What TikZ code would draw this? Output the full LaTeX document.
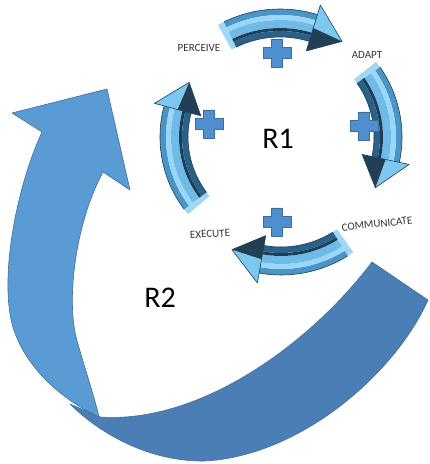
\documentclass[tikz,border=0pt]{standalone}
\usepackage{fontspec}
\setmainfont{Carlito}
\definecolor{bigLight}{HTML}{5B9BD5}
\definecolor{bigDark}{HTML}{4A7EB5}
\definecolor{bigEdge}{HTML}{41719C}
\definecolor{armid}{HTML}{4A94C6}
\definecolor{arhi}{HTML}{9AD6F7}
\definecolor{arlight}{HTML}{6FBAE6}
\definecolor{ardark}{HTML}{1C3F57}
\definecolor{ardeep}{HTML}{2A6189}
\definecolor{arend}{HTML}{9ED8F5}
\definecolor{headlight}{HTML}{7CC8F0}
\definecolor{headdark}{HTML}{223F55}
\definecolor{plusblue}{HTML}{4F8FD0}
\definecolor{plusedge}{HTML}{3A6E9F}
\definecolor{labelgray}{HTML}{333333}
\tikzset{
  bigarrow/.style={draw=bigEdge, line width=0.6pt, line join=round},
  arline/.style={draw=ardark, line width=0.6pt, line join=round},
  steplabel/.style={font=\fontsize{11}{12}\selectfont, text=labelgray, inner sep=1pt},
  looplabel/.style={font=\fontsize{30}{32}\selectfont, text=black, inner sep=1pt},
  plussign/.pic={\filldraw[fill=plusblue, draw=plusedge, line width=0.8pt]
    (-5.5,-14) -- (5.5,-14) -- (5.5,-5.5) -- (14,-5.5) -- (14,5.5) -- (5.5,5.5) -- (5.5,14)
    -- (-5.5,14) -- (-5.5,5.5) -- (-14,5.5) -- (-14,-5.5) -- (-5.5,-5.5) -- cycle;}
}
% #1 start angle, #2 tip angle (clockwise, #2 < #1), #3 inner radius; band width 28
\newcommand\ringarrow[3]{%
  \pgfmathsetmacro\hb{#2+16}%
  \pgfmathsetmacro\rA{#3}%
  \pgfmathsetmacro\rB{#3+6}%
  \pgfmathsetmacro\rC{#3+9}%
  \pgfmathsetmacro\rD{#3+17}%
  \pgfmathsetmacro\rE{#3+22}%
  \pgfmathsetmacro\rF{#3+28}%
  \pgfmathsetmacro\rM{#3+14}%
  \pgfmathsetmacro\hIn{#3-10}%
  \pgfmathsetmacro\hOut{#3+38}%
  \fill[arend] (#1:\rA) -- (#1:\rF) -- ({#1+3}:\rF) -- ({#1+3}:\rA) -- cycle;
  \foreach \ra/\rb/\cl in {\rE/\rF/armid,\rD/\rE/arhi,\rC/\rD/arlight,\rB/\rC/ardark,\rA/\rB/ardeep}{
    \fill[fill=\cl] (#1:\rb) arc[start angle=#1,end angle=\hb,radius=\rb] -- (\hb:\ra)
      arc[start angle=\hb,end angle=#1,radius=\ra] -- cycle;
  }
  \draw[arline] (#1:\rF) arc[start angle=#1,end angle=\hb,radius=\rF];
  \draw[arline] (#1:\rA) arc[start angle=#1,end angle=\hb,radius=\rA];
  \fill[headlight] (\hb:\rM) -- (\hb:\hOut) -- (#2:\rM) -- cycle;
  \fill[headdark] (\hb:\rM) -- (\hb:\hIn) -- (#2:\rM) -- cycle;
  \draw[arline] (\hb:\hIn) -- (\hb:\hOut) -- (#2:\rM) -- cycle;
}
\begin{document}
\begin{tikzpicture}[x=1pt,y=1pt]
\useasboundingbox (0,0) rectangle (430,464);
% big R2 arrow: dark lower part
\path[bigarrow, fill=bigDark] (70,60) -- (100,47)
  .. controls (200,40) and (310,120) .. (372,202)
  -- (428,164)
  .. controls (395,90) and (300,8) .. (205,3)
  .. controls (150,2) and (100,30) .. (70,60) -- cycle;
% big R2 arrow: light left part with head
\path[bigarrow, fill=bigLight] (12,351) -- (107,375) -- (130,274) -- (103,292)
  .. controls (75,240) and (65,160) .. (78,120)
  .. controls (85,95) and (95,65) .. (99,47)
  .. controls (50,70) and (16,110) .. (10,150)
  .. controls (2,200) and (18,280) .. (42,332) -- cycle;
% R1 ring of arrows
\begin{scope}[shift={(280,327)}]
  \ringarrow{116}{57}{100}
  \ringarrow{35}{-28}{94}
  \ringarrow{217}{149}{92}
\end{scope}
\begin{scope}[shift={(281,315)}]
  \ringarrow{-58}{-116}{98}
\end{scope}
% plus signs
\pic at (277,411) {plussign};
\pic at (364,338) {plussign};
\pic at (209,340) {plussign};
\pic at (277,242) {plussign};
% labels
\node[steplabel] (perceive) at (199,416) {PERCEIVE};
\node[steplabel] (adapt) at (367,409) {ADAPT};
\node[steplabel, rotate=6] (communicate) at (377,240) {COMMUNICATE};
\node[steplabel, rotate=3] (execute) at (210,230) {EXECUTE};
\node[looplabel] (r1) at (278,325) {R1};
\node[looplabel] (r2) at (160,166) {R2};
\end{tikzpicture}
\end{document}
